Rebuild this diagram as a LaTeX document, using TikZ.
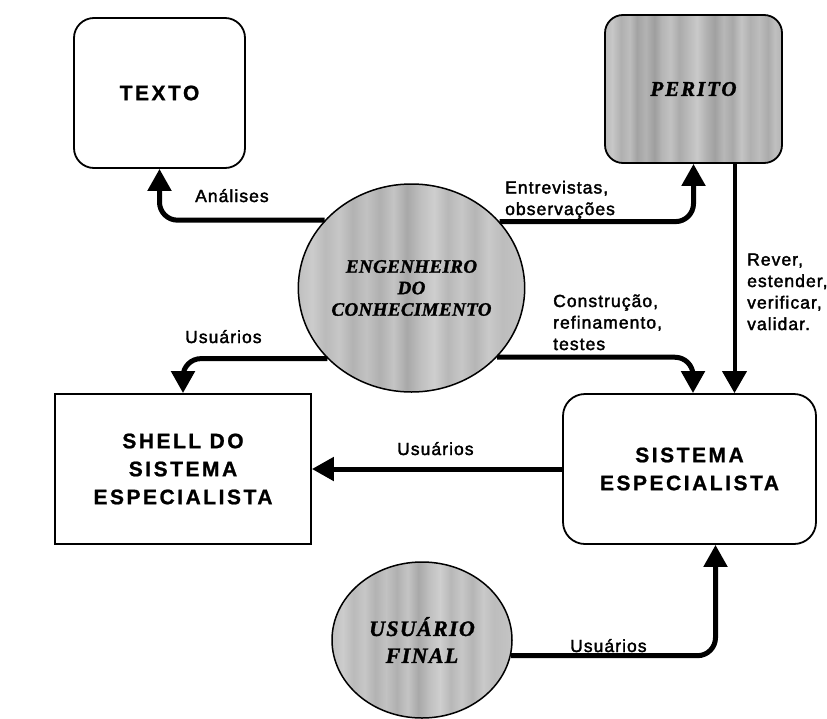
\documentclass[tikz,border=0pt]{standalone}
\usepackage{fontspec}
\setmainfont{Liberation Serif}
\setsansfont{Liberation Sans}
\usetikzlibrary{arrows.meta,shapes.geometric}

% fonts: labels, box titles, actor names
\newfontfamily\labelfam[LetterSpace=6,FakeBold=2]{Liberation Sans}
\newfontfamily\boxfam[LetterSpace=12,FakeBold=1]{Liberation Sans}
\newfontfamily\actorfam[LetterSpace=2,FakeBold=1.5]{Liberation Serif}
\newcommand\lbltext{\labelfam\fontsize{17.5}{21.5}\selectfont}
\newcommand\boxtext{\boxfam\bfseries\fontsize{21}{28}\selectfont}
\newcommand\actortext{\actorfam\bfseries\itshape\fontsize{19}{21.5}\selectfont}
\newcommand\peritotext{\actorfam\bfseries\itshape\addfontfeature{LetterSpace=9}\fontsize{21}{24}\selectfont}
\newcommand\usertext{\actorfam\bfseries\itshape\addfontfeature{LetterSpace=6}\fontsize{22}{27}\selectfont}

% streaked grey fills
\pgfdeclarehorizontalshading{streaks}{100bp}{%
  color(0bp)=(black!30); color(25bp)=(black!27); color(27bp)=(black!22);
  color(29.5bp)=(black!31); color(32bp)=(black!26); color(34bp)=(black!36);
  color(36.5bp)=(black!30); color(39bp)=(black!38); color(41bp)=(black!29);
  color(43.5bp)=(black!24); color(46bp)=(black!33); color(48.5bp)=(black!27);
  color(51bp)=(black!21); color(53.5bp)=(black!30); color(56bp)=(black!37);
  color(58.5bp)=(black!28); color(61bp)=(black!34); color(63.5bp)=(black!23);
  color(66bp)=(black!31); color(68.5bp)=(black!26); color(71bp)=(black!33);
  color(73bp)=(black!25); color(75bp)=(black!29); color(100bp)=(black!29)}
\pgfdeclarehorizontalshading{blotch}{100bp}{%
  color(0bp)=(black!24); color(25bp)=(black!25); color(28bp)=(black!20);
  color(31bp)=(black!27); color(34bp)=(black!22); color(37bp)=(black!30);
  color(40bp)=(black!24); color(43bp)=(black!31); color(46bp)=(black!23);
  color(49bp)=(black!34); color(52bp)=(black!25); color(55bp)=(black!19);
  color(58bp)=(black!28); color(61bp)=(black!22); color(64bp)=(black!29);
  color(67bp)=(black!21); color(70bp)=(black!26); color(75bp)=(black!23);
  color(100bp)=(black!23)}

\begin{document}
\begin{tikzpicture}[x=1pt,y=-1pt,
  box/.style={draw=black, line width=1.8pt, inner sep=0pt, font=\boxtext, align=center},
  roundbox/.style={box, rounded corners=20pt},
  actor/.style={ellipse, draw=black, line width=1.5pt, inner sep=0pt, align=center, font=\actortext},
  flow/.style={line width=5pt, -{Triangle[width=23pt,length=22pt]}, rounded corners=18pt},
  thinflow/.style={line width=4pt, -{Triangle[width=24pt,length=22pt]}},
  lbl/.style={font=\lbltext, inner sep=0pt, align=left, anchor=base west}
]
\useasboundingbox (0,0) rectangle (827,718);
\fill[white] (0,0) rectangle (827,718);

% boxes
\node[roundbox, fill=white, minimum width=171pt, minimum height=150pt] (texto) at (159.5,93) {TEXTO};
\node[roundbox, shade, shading=streaks, rounded corners=18pt, font=\peritotext,
      minimum width=177pt, minimum height=148pt] (perito) at (693.5,89) {PERITO};
\node[box, fill=white, minimum width=256pt, minimum height=150pt] (shell) at (183,469) {SHELL DO\\SISTEMA\\ESPECIALISTA};
\node[roundbox, fill=white, rounded corners=22pt, minimum width=253pt, minimum height=150pt] (sist) at (689.5,469) {SISTEMA\\ESPECIALISTA};

% actors
\node[actor, shade, shading=blotch, minimum width=223pt, minimum height=208pt] (eng) at (411.5,288) {ENGENHEIRO\\DO\\CONHECIMENTO};
\node[actor, shade, shading=blotch, font=\usertext, minimum width=180pt, minimum height=156pt] (usr) at (422,640) {USUÁRIO\\FINAL};

% flows
\draw[flow] (eng.142.6) -| (texto.south);
\draw[flow] (eng.37.4) -| (perito.south);
\draw[flow] (eng.-140.4) -| (shell.north);
\draw[flow] (eng.-39.6) -| ([xshift=3.5pt]sist.north);
\draw[thinflow] ([xshift=41pt]perito.south) -- ([xshift=41pt]perito.south |- sist.north);
\draw[flow, rounded corners=0pt] (sist.west) -- (shell.east);
\draw[flow] (usr.-10.3) -| ([xshift=26pt]sist.south);

% labels (multi-line ones are placed by their last baseline)
\node[lbl] (lanalises) at (195,202) {Análises};
\node[lbl] (lentrev) at (505,215) {Entrevistas,\\observações};
\node[lbl] (lrever) at (747,330) {Rever,\\estender,\\verificar,\\validar.};
\node[lbl] (lconstr) at (553,350) {Construção,\\refinamento,\\testes};
\node[lbl] (lusr1) at (185,343) {Usuários};
\node[lbl] (lusr2) at (397,455) {Usuários};
\node[lbl] (lusr3) at (570,652) {Usuários};
\end{tikzpicture}
\end{document}
